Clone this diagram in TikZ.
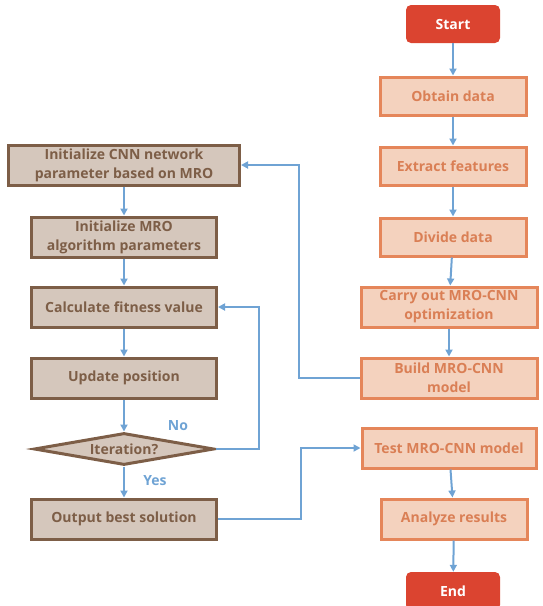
\documentclass[tikz,border=0pt]{standalone}
\usepackage{fontspec}
\setmainfont{Open Sans}
\usetikzlibrary{arrows.meta,shapes.geometric}
\definecolor{taupefill}{HTML}{D5C7BC}
\definecolor{taupeline}{HTML}{7D5E47}
\definecolor{peachfill}{HTML}{F4D2BE}
\definecolor{peachline}{HTML}{E5865A}
\definecolor{redfill}{HTML}{DB4430}
\definecolor{flowblue}{HTML}{6FA3D4}
\tikzset{
  every node/.style={font=\fontsize{14}{19}\selectfont\bfseries, align=center, inner sep=0pt},
  leftbox/.style={draw=taupeline, fill=taupefill, text=taupeline, line width=3pt, minimum width=185, minimum height=40},
  rightbox/.style={draw=peachline, fill=peachfill, text=peachline!95!black, line width=3pt, minimum width=146, minimum height=38},
  termbox/.style={fill=redfill, text=white, rounded corners=5pt, minimum width=94, minimum height=38},
  decide/.style={diamond, draw=taupeline, fill=taupefill, text=taupeline, line width=3pt, aspect=5.6, minimum width=180, minimum height=32},
  flow/.style={draw=flowblue, line width=2pt, -{Triangle[length=7pt,width=7pt]}},
  tag/.style={text=flowblue}
}
\begin{document}
\begin{tikzpicture}[x=1pt,y=-1pt]
\useasboundingbox (0,0) rectangle (542,606);
% right column
\node[termbox] (start) at (453,24) {Start};
\node[rightbox] (obtain) at (453,96) {Obtain data};
\node[rightbox] (extract) at (453,166) {Extract features};
\node[rightbox] (divide) at (453,237) {Divide data};
\node[rightbox, minimum width=176, minimum height=40] (carry) at (449,307) {Carry out MRO-CNN\\optimization};
\node[rightbox, minimum width=176, minimum height=40] (build) at (449,378) {Build MRO-CNN\\model};
\node[rightbox, minimum width=174, minimum height=40] (test) at (449,448) {Test MRO-CNN model};
\node[rightbox, minimum height=40] (analyze) at (454,519) {Analyze results};
\node[termbox] (end) at (453,591) {End};
% left column
\node[leftbox, minimum width=231] (initcnn) at (124,165) {Initialize CNN network\\parameter based on MRO};
\node[leftbox] (initmro) at (124,237) {Initialize MRO\\algorithm parameters};
\node[leftbox] (calc) at (124,307) {Calculate fitness value};
\node[leftbox] (update) at (124,378) {Update position};
\node[decide] (iter) at (124,449) {Iteration?};
\node[leftbox] (output) at (124,519) {Output best solution};
% labels
\node[tag] (no) at (178,426) {No};
\node[tag] (yes) at (155,481) {Yes};
% connectors
\draw[flow] (start) -- (obtain);
\draw[flow] (obtain) -- (extract);
\draw[flow] (extract) -- (divide);
\draw[flow] (divide) -- (carry);
\draw[flow] (carry) -- (build);
\draw[flow] (test) -- (analyze);
\draw[flow] (analyze) -- (end);
\draw[flow] (initcnn) -- (initmro);
\draw[flow] (initmro) -- (calc);
\draw[flow] (calc) -- (update);
\draw[flow] (update) -- (iter);
\draw[flow] (iter) -- (output);
\draw[flow] (build.west) -- ++(-61,0) |- (initcnn.east);
\draw[flow] (iter.east) -- ++(43,0) |- (calc.east);
\draw[flow] (output.east) -- ++(83,0) |- (test.west);
\end{tikzpicture}
\end{document}
